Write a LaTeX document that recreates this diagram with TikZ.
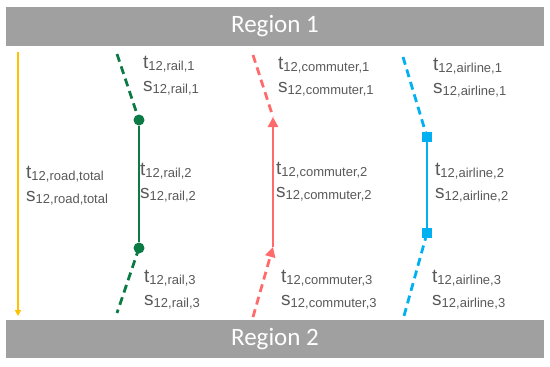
\documentclass[tikz,border=0pt]{standalone}
\usepackage{fontspec}
\setmainfont{Liberation Sans}
\newfontfamily\regionfont{Carlito}
\usepackage{xcolor}
\usepackage{tikz}
\usetikzlibrary{arrows.meta}

\definecolor{bargray}{HTML}{A0A0A0}
\definecolor{labgray}{HTML}{595959}
\definecolor{roadcol}{HTML}{FFC000}
\definecolor{railcol}{HTML}{0B7A45}
\definecolor{commcol}{HTML}{FF6B6B}
\definecolor{aircol}{HTML}{00B0F0}

\newcommand{\sbs}[1]{\raisebox{-2pt}{\fontsize{13}{13}\selectfont #1}}
\newcommand{\pairlab}[1]{t\sbs{12,#1}\\s\sbs{12,#1}}

\begin{document}
\begin{tikzpicture}[
  x=1pt, y=-1pt,
  region/.style={fill=bargray, text=white, minimum width=538pt, minimum height=39pt,
    inner sep=0pt, font=\regionfont\fontsize{25}{25}\selectfont},
  lab/.style={anchor=base west, inner sep=0pt, align=left, text=labgray,
    font=\fontsize{19}{23}\selectfont},
  leg/.style={line width=2.8pt},
  legdash/.style={leg, dash pattern=on 8pt off 5pt},
  dot/.style={circle, fill=railcol, minimum size=11pt, inner sep=0pt},
  sq/.style={rectangle, fill=aircol, minimum size=10.5pt, inner sep=0pt},
  tip/.style={-{Triangle[width=10pt,length=10pt]}},
]
  \useasboundingbox (0,0) rectangle (550,367);

  \node[region] (reg1) at (275,26.5) {Region 1};
  \node[region, minimum height=38pt] (reg2) at (275,339) {Region 2};

  % road
  \coordinate (rdtop) at (18,52);
  \coordinate (rdbot) at (18,316);
  \draw[roadcol, line width=1.8pt, -{Triangle[width=6pt,length=6pt]}] (rdtop) -- (rdbot);
  \node[lab] (roadlab) at (26,201) {\pairlab{road,total}};

  % rail
  \coordinate (rltop) at (117,54);
  \coordinate (rlbot) at (117,313);
  \node[dot] (rl1) at (139,120) {};
  \node[dot] (rl2) at (139,248) {};
  \draw[railcol, legdash] (rltop) -- (rl1.center);
  \draw[railcol, leg] (rl1) -- (rl2);
  \draw[railcol, legdash] (rl2.center) -- (rlbot);
  \node[lab] (raillab1) at (143,91) {\pairlab{rail,1}};
  \node[lab] (raillab2) at (140,198) {\pairlab{rail,2}};
  \node[lab] (raillab3) at (144,305) {\pairlab{rail,3}};

  % commuter
  \coordinate (cmtop) at (253,55);
  \coordinate (cm1) at (273,117);
  \coordinate (cm2) at (273,247);
  \coordinate (cmbot) at (253,317);
  \draw[commcol, legdash] (cmtop) -- (cm1);
  \draw[commcol, leg, tip] (cm2) -- (cm1);
  \draw[commcol, legdash, tip] (cmbot) -- (cm2);
  \node[lab] (commlab1) at (278,92) {\pairlab{commuter,1}};
  \node[lab] (commlab2) at (276,197) {\pairlab{commuter,2}};
  \node[lab] (commlab3) at (281,305) {\pairlab{commuter,3}};

  % airline
  \coordinate (airtop) at (403,57);
  \coordinate (airbot) at (404,316);
  \node[sq] (air1) at (427,137) {};
  \node[sq] (air2) at (427,233) {};
  \draw[aircol, legdash] (airtop) -- (air1.center);
  \draw[aircol, leg] (air1) -- (air2);
  \draw[aircol, legdash] (air2.center) -- (airbot);
  \node[lab] (airlab1) at (433,93) {\pairlab{airline,1}};
  \node[lab] (airlab2) at (435,198) {\pairlab{airline,2}};
  \node[lab] (airlab3) at (432,305) {\pairlab{airline,3}};
\end{tikzpicture}
\end{document}
